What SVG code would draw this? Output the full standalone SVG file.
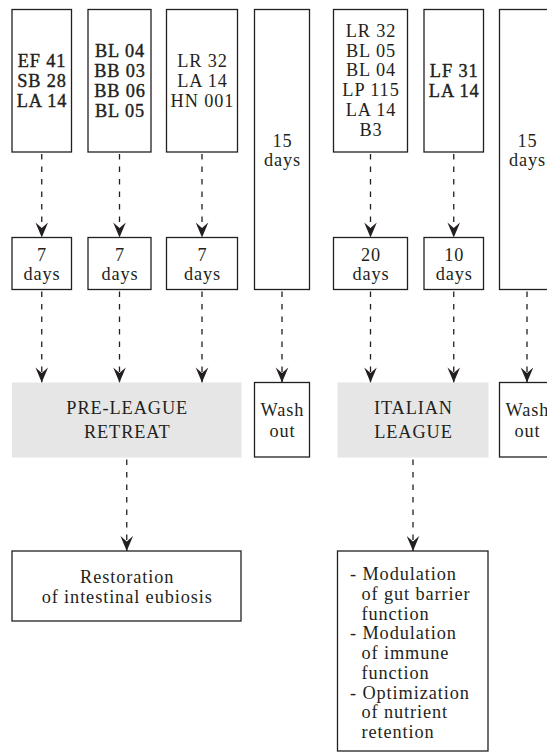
<svg xmlns="http://www.w3.org/2000/svg" width="547" height="754" viewBox="0 0 547 754">
<style>
  .box { fill: #ffffff; stroke: #231f20; stroke-width: 1.3; }
  .gray { fill: #e6e6e7; stroke: none; }
  .t { font-family: 'Liberation Serif', 'Tinos', 'Times New Roman', serif; font-size: 18.3px; letter-spacing: 0.9px; fill: #231f20; }
  .c { text-anchor: middle; }
  .semi { stroke: #231f20; stroke-width: 0.4; }
  .conn line { stroke: #231f20; stroke-width: 1.3; stroke-dasharray: 5.5 7; marker-end: url(#ah); }
</style>
<defs>
  <marker id="ah" markerUnits="userSpaceOnUse" markerWidth="18" markerHeight="16" viewBox="-17 -8 18 16" refX="0" refY="0" orient="auto">
    <path d="M0,0 L-15,-6.3 L-9.5,0 L-15,6.3 Z" fill="#231f20"/>
  </marker>
</defs>
<rect width="547" height="754" fill="#ffffff"/>

<g id="connectors" class="conn">
  <line x1="41.75" y1="154" x2="41.75" y2="237.5"/>
  <line x1="119.5" y1="154" x2="119.5" y2="237.5"/>
  <line x1="202" y1="154" x2="202" y2="237.5"/>
  <line x1="370.5" y1="154" x2="370.5" y2="237.5"/>
  <line x1="453.75" y1="154" x2="453.75" y2="237.5"/>
  <line x1="41.75" y1="291.5" x2="41.75" y2="382.5"/>
  <line x1="119.5" y1="291.5" x2="119.5" y2="382.5"/>
  <line x1="202" y1="291.5" x2="202" y2="382.5"/>
  <line x1="282" y1="291.5" x2="282" y2="382.5"/>
  <line x1="370.5" y1="291.5" x2="370.5" y2="382.5"/>
  <line x1="453.75" y1="291.5" x2="453.75" y2="382.5"/>
  <line x1="527" y1="291.5" x2="527" y2="382.5"/>
  <line x1="126.75" y1="459.5" x2="126.75" y2="551"/>
  <line x1="413" y1="459.5" x2="413" y2="551"/>
</g>

<g class="t">
<g id="probiotic1">
  <rect class="box" x="12" y="9.5" width="59.5" height="142.5"/>
  <text class="c semi" x="42" y="67">EF 41</text>
  <text class="c semi" x="42" y="87">SB 28</text>
  <text class="c semi" x="42" y="107">LA 14</text>
</g>
<g id="probiotic2">
  <rect class="box" x="88" y="9.5" width="63" height="142.5"/>
  <text class="c semi" x="120" y="57">BL 04</text>
  <text class="c semi" x="120" y="77">BB 03</text>
  <text class="c semi" x="120" y="97">BB 06</text>
  <text class="c semi" x="120" y="117">BL 05</text>
</g>
<g id="probiotic3">
  <rect class="box" x="166.5" y="9.5" width="71" height="142.5"/>
  <text class="c" x="202.5" y="67">LR 32</text>
  <text class="c" x="202.5" y="87">LA 14</text>
  <text class="c" x="202.5" y="107">HN 001</text>
</g>
<g id="pause1">
  <rect class="box" x="254.5" y="9.5" width="55" height="280"/>
  <text class="c" x="282.5" y="147">15</text>
  <text class="c" x="282.5" y="166">days</text>
</g>
<g id="probiotic5">
  <rect class="box" x="333.5" y="9.5" width="74" height="142.5"/>
  <text class="c" x="371" y="37">LR 32</text>
  <text class="c" x="371" y="56.7">BL 05</text>
  <text class="c" x="371" y="76.4">BL 04</text>
  <text class="c" x="371" y="96.1">LP 115</text>
  <text class="c" x="371" y="115.8">LA 14</text>
  <text class="c" x="371" y="135.5">B3</text>
</g>
<g id="probiotic6">
  <rect class="box" x="424" y="9.5" width="59.5" height="142.5"/>
  <text class="c semi" x="454.2" y="77">LF 31</text>
  <text class="c semi" x="454.2" y="97">LA 14</text>
</g>
<g id="pause2">
  <rect class="box" x="499.5" y="9.5" width="55" height="280"/>
  <text class="c" x="527.5" y="147">15</text>
  <text class="c" x="527.5" y="166">days</text>
</g>

<g id="dur1">
  <rect class="box" x="12" y="237.5" width="59.5" height="52"/>
  <text class="c" x="42" y="261">7</text>
  <text class="c" x="42" y="280">days</text>
</g>
<g id="dur2">
  <rect class="box" x="88" y="237.5" width="63" height="52"/>
  <text class="c" x="120" y="261">7</text>
  <text class="c" x="120" y="280">days</text>
</g>
<g id="dur3">
  <rect class="box" x="166.5" y="237.5" width="71" height="52"/>
  <text class="c" x="202.5" y="261">7</text>
  <text class="c" x="202.5" y="280">days</text>
</g>
<g id="dur5">
  <rect class="box" x="333.5" y="237.5" width="74" height="52"/>
  <text class="c" x="371" y="261">20</text>
  <text class="c" x="371" y="280">days</text>
</g>
<g id="dur6">
  <rect class="box" x="424" y="237.5" width="59.5" height="52"/>
  <text class="c" x="454.2" y="261">10</text>
  <text class="c" x="454.2" y="280">days</text>
</g>

<g id="preleague">
  <rect class="gray" x="12" y="382.5" width="229.5" height="75"/>
  <text class="c" x="127.2" y="414">PRE-LEAGUE</text>
  <text class="c" x="127.2" y="438">RETREAT</text>
</g>
<g id="washout1">
  <rect class="box" x="254.5" y="382.5" width="55" height="74.5"/>
  <text class="c" x="282.5" y="416">Wash</text>
  <text class="c" x="282.5" y="437">out</text>
</g>
<g id="italianleague">
  <rect class="gray" x="337.5" y="382.5" width="151" height="75"/>
  <text class="c" x="413.5" y="414">ITALIAN</text>
  <text class="c" x="413.5" y="438">LEAGUE</text>
</g>
<g id="washout2">
  <rect class="box" x="499.5" y="382.5" width="55" height="74.5"/>
  <text class="c" x="527.5" y="416">Wash</text>
  <text class="c" x="527.5" y="437">out</text>
</g>

<g id="result1">
  <rect class="box" x="12" y="551" width="229" height="70"/>
  <text class="c" x="127.2" y="583">Restoration</text>
  <text class="c" x="127.2" y="603">of intestinal eubiosis</text>
</g>
<g id="result2">
  <rect class="box" x="337.5" y="551" width="150.5" height="200"/>
  <text x="350" y="580">- Modulation</text>
  <text x="361.5" y="599.75">of gut barrier</text>
  <text x="361.5" y="619.5">function</text>
  <text x="350" y="639.25">- Modulation</text>
  <text x="361.5" y="659">of immune</text>
  <text x="361.5" y="678.75">function</text>
  <text x="350" y="698.5">- Optimization</text>
  <text x="361.5" y="718.25">of nutrient</text>
  <text x="361.5" y="738">retention</text>
</g>
</g>
</svg>
